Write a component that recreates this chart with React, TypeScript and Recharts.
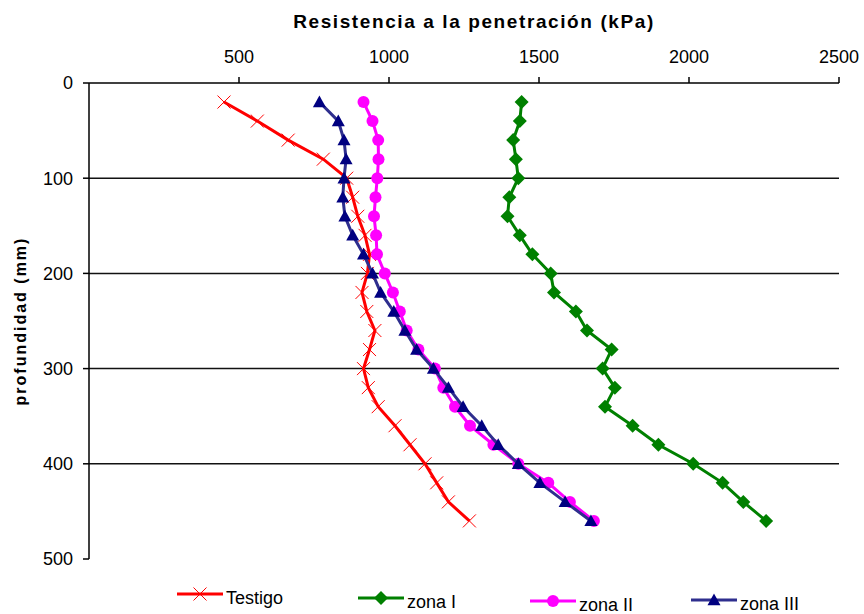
import { ReferenceLine, Scatter, ScatterChart, XAxis, YAxis } from "recharts";

const FONT = '"Liberation Sans", Arial, sans-serif';

// profundidad (mm)
const depths = [20, 40, 60, 80, 100, 120, 140, 160, 180, 200, 220, 240, 260, 280, 300, 320, 340, 360, 380, 400, 420, 440, 460];

// resistencia (kPa)
const testigo = [450, 561, 664, 781, 859, 879, 896, 920, 935, 928, 910, 926, 953, 935, 915, 931, 964, 1020, 1070, 1120, 1159, 1198, 1268];
const zonaI = [1442, 1436, 1414, 1423, 1431, 1401, 1395, 1436, 1478, 1539, 1550, 1623, 1660, 1742, 1712, 1753, 1720, 1812, 1898, 2014, 2112, 2181, 2257];
const zonaII = [915, 945, 964, 965, 961, 955, 950, 957, 960, 986, 1013, 1036, 1059, 1098, 1153, 1181, 1220, 1270, 1348, 1431, 1531, 1603, 1683];
const zonaIII = [768, 831, 850, 857, 850, 846, 853, 879, 915, 945, 972, 1016, 1053, 1092, 1148, 1198, 1247, 1309, 1364, 1431, 1503, 1587, 1673];

const xTicks = [500, 1000, 1500, 2000, 2500];
const yTicks = [0, 100, 200, 300, 400, 500];
const gridDepths = [100, 200, 300, 400];

type Marker = "x" | "diamond" | "circle" | "triangle";

const series: Array<{ name: string; values: number[]; color: string; fill: string; marker: Marker }> = [
  { name: "Testigo", values: testigo, color: "#FF0000", fill: "#FF0000", marker: "x" },
  { name: "zona I", values: zonaI, color: "#008000", fill: "#008000", marker: "diamond" },
  { name: "zona II", values: zonaII, color: "#FF00FF", fill: "#FF00FF", marker: "circle" },
  { name: "zona III", values: zonaIII, color: "#2E2E8E", fill: "#000080", marker: "triangle" },
];

function drawMarker(marker: Marker, cx: number, cy: number, fill: string) {
  if (marker === "x") {
    const r = 6.5;
    return (
      <g stroke={fill} strokeWidth={1}>
        <line x1={cx - r} y1={cy - r} x2={cx + r} y2={cy + r} />
        <line x1={cx - r} y1={cy + r} x2={cx + r} y2={cy - r} />
      </g>
    );
  }
  if (marker === "diamond") {
    const r = 7;
    return <polygon points={`${cx},${cy - r} ${cx + r},${cy} ${cx},${cy + r} ${cx - r},${cy}`} fill={fill} />;
  }
  if (marker === "circle") return <circle cx={cx} cy={cy} r={6} fill={fill} />;
  const r = 6.5;
  return <polygon points={`${cx},${cy - r} ${cx + r},${cy + r * 0.8} ${cx - r},${cy + r * 0.8}`} fill={fill} />;
}

const legendPos = [
  { left: 177, top: 594 },
  { left: 358, top: 598 },
  { left: 530, top: 601 },
  { left: 691, top: 600 },
];

export default function App() {
  const tickStyle = { fill: "#000", fontSize: 18, fontFamily: FONT };
  return (
    <div style={{ position: "absolute", left: 0, top: 0, width: 864, height: 614, background: "#fff", fontFamily: FONT }}>
      <ScatterChart width={864} height={614} margin={{ top: 53, right: 25, bottom: 55, left: 29 }}>
        <XAxis
          type="number"
          dataKey="kpa"
          orientation="top"
          domain={[0, 2500]}
          ticks={xTicks}
          height={30}
          tickSize={6}
          tickMargin={14}
          tick={tickStyle}
          axisLine={{ stroke: "#000", strokeWidth: 1.5 }}
          tickLine={{ stroke: "#000", strokeWidth: 1.5 }}
        />
        <YAxis
          type="number"
          dataKey="depth"
          domain={[0, 500]}
          ticks={yTicks}
          reversed
          width={60}
          tickSize={6}
          tickMargin={10}
          tick={tickStyle}
          axisLine={{ stroke: "#000", strokeWidth: 1.5 }}
          tickLine={{ stroke: "#000", strokeWidth: 1.5 }}
        />
        {gridDepths.map((d) => (
          <ReferenceLine key={d} y={d} stroke="#111" strokeWidth={1.5} />
        ))}
        {series.map((s) => (
          <Scatter
            key={s.name}
            name={s.name}
            data={depths.map((depth, i) => ({ depth, kpa: s.values[i] }))}
            line={{ stroke: s.color, strokeWidth: 3 }}
            lineType="joint"
            shape={(p: any) => drawMarker(s.marker, p.cx, p.cy, s.fill)}
            isAnimationActive={false}
          />
        ))}
      </ScatterChart>

      <div
        style={{
          position: "absolute",
          left: 474,
          top: 22,
          transform: "translate(-50%, -50%)",
          fontSize: 19,
          fontWeight: "bold",
          letterSpacing: 1.6,
          whiteSpace: "nowrap",
        }}
      >
        Resistencia a la penetración (kPa)
      </div>
      <div
        style={{
          position: "absolute",
          left: 21,
          top: 321,
          transform: "translate(-50%, -50%) rotate(-90deg)",
          fontSize: 16,
          fontWeight: "bold",
          letterSpacing: 2,
          whiteSpace: "nowrap",
        }}
      >
        profundidad (mm)
      </div>

      {series.map((s, i) => (
        <div
          key={s.name}
          style={{
            position: "absolute",
            left: legendPos[i].left,
            top: legendPos[i].top - 10,
            height: 20,
            display: "flex",
            alignItems: "center",
            fontSize: 18,
            whiteSpace: "nowrap",
          }}
        >
          <svg width={46} height={20} style={{ marginRight: 3 }}>
            <line x1={0} y1={10} x2={46} y2={10} stroke={s.color} strokeWidth={3} />
            {drawMarker(s.marker, 23, 10, s.fill)}
          </svg>
          <span style={{ position: "relative", top: 4 }}>{s.name}</span>
        </div>
      ))}
    </div>
  );
}
